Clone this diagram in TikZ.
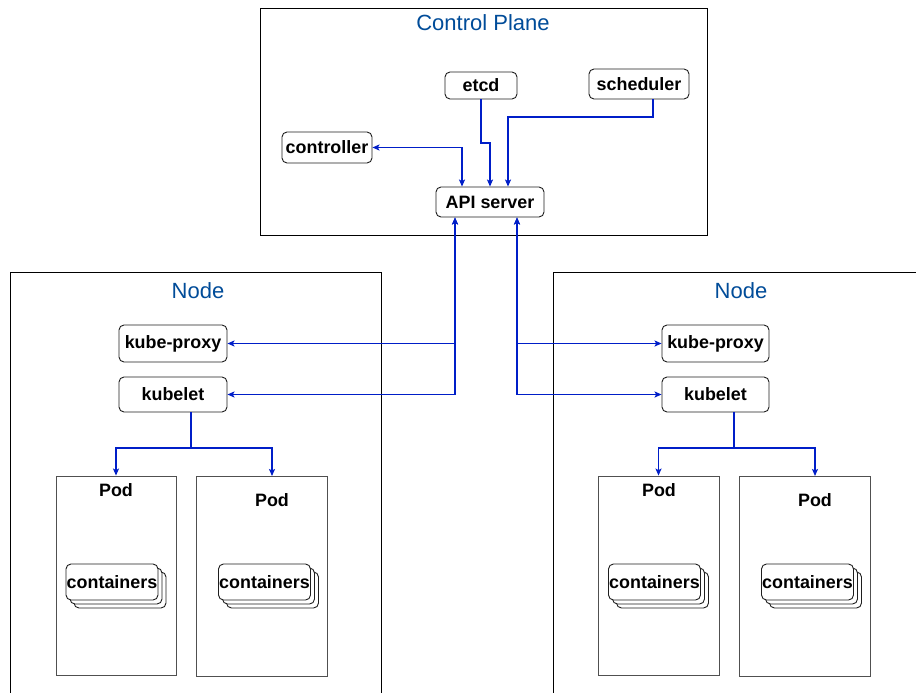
\documentclass[tikz,border=0pt]{standalone}
\usepackage{fontspec}
\setmainfont{Liberation Sans}
\usetikzlibrary{arrows.meta,shadows}

\definecolor{linkblue}{RGB}{0,30,200}
\definecolor{titleblue}{RGB}{0,76,153}
\definecolor{edge}{RGB}{30,30,30}
\definecolor{podgray}{RGB}{80,80,80}

\tikzset{
  lbl/.style={font=\bfseries\fontsize{17.9}{20}\selectfont},
  comp/.style={lbl, draw=edge, line width=0.9pt, rounded corners=5pt, fill=white, inner sep=0pt},
  region/.style={draw=black, line width=1pt},
  regiontitle/.style={text=titleblue, font=\fontsize{22}{26}\selectfont, inner sep=0pt},
  podbox/.style={draw=podgray, line width=0.9pt, inner sep=0pt},
  stack/.style={comp, minimum width=92pt, minimum height=36pt,
    double copy shadow={shadow xshift=4pt, shadow yshift=-4pt}},
  link/.style={draw=linkblue, line width=1.2pt, {Stealth[length=7pt,width=6pt,inset=1.5pt]}-{Stealth[length=7pt,width=6pt,inset=1.5pt]}},
  tolink/.style={draw=linkblue, line width=1.2pt, -{Stealth[length=7pt,width=6pt,inset=1.5pt]}},
}

\begin{document}
\begin{tikzpicture}[x=1pt,y=-1pt]
\useasboundingbox (0,0) rectangle (916,693);
\clip (0,0) rectangle (916,693);
\fill[white] (0,0) rectangle (916,693);

% ---- control plane ----
\node[region, minimum width=447pt, minimum height=226pt, inner sep=0pt] (cp) at (483.5,122) {};
\node[regiontitle] (cptitle) at (483,23) {Control Plane};
\node[comp, minimum width=72pt, minimum height=27pt] (etcd) at (481,85.5) {etcd};
\node[comp, minimum width=100pt, minimum height=30pt] (sched) at (639,84) {scheduler};
\node[comp, minimum width=90pt, minimum height=31pt] (ctrl) at (327,147.5) {controller};
\node[comp, minimum width=108pt, minimum height=30pt] (api) at (490,202) {API server};

\coordinate (ctrlbend) at (462,147.5);
\coordinate (etcdbend) at (490,143);
\coordinate (schedout) at (653,99);
\coordinate (schedbend) at (508,117);
\draw[link] (ctrl.east) -- (ctrlbend) -- (ctrlbend |- api.north);
\draw[tolink] (etcd.south) |- (etcdbend) -- (api.north);
\draw[tolink] (schedout |- sched.south) |- (schedbend) -- (schedbend |- api.north);

% ---- left worker node ----
\node[region, minimum width=371pt, minimum height=430pt, inner sep=0pt] (nodeL) at (195.5,487) {};
\node[regiontitle] (nodeLtitle) at (198,291) {Node};
\node[comp, minimum width=108pt, minimum height=37pt] (kpL) at (173,343.5) {kube-proxy};
\node[comp, minimum width=108pt, minimum height=35pt] (klL) at (173,394.5) {kubelet};

\node[podbox, minimum width=120pt, minimum height=199pt] (pod1) at (116,575.5) {};
\node[lbl] (pod1t) at (116,490) {Pod};
\node[stack] (cont1) at (112,582) {containers};
\node[podbox, minimum width=131pt, minimum height=200pt] (pod2) at (261.5,576) {};
\node[lbl] (pod2t) at (272,500) {Pod};
\node[stack] (cont2) at (264.5,582) {containers};

% ---- right worker node ----
\node[region, minimum width=367pt, minimum height=430pt, inner sep=0pt] (nodeR) at (736.5,487) {};
\node[regiontitle] (nodeRtitle) at (741,291) {Node};
\node[comp, minimum width=107pt, minimum height=37pt] (kpR) at (715.5,343.5) {kube-proxy};
\node[comp, minimum width=107pt, minimum height=35pt] (klR) at (715.5,394.5) {kubelet};

\node[podbox, minimum width=121pt, minimum height=199pt] (pod3) at (658.5,575.5) {};
\node[lbl] (pod3t) at (659,490) {Pod};
\node[stack] (cont3) at (654.5,582) {containers};
\node[podbox, minimum width=131pt, minimum height=200pt] (pod4) at (804.5,576) {};
\node[lbl] (pod4t) at (815,500) {Pod};
\node[stack] (cont4) at (807.5,582) {containers};

% ---- API server to the node agents ----
\coordinate (apiL) at (api.south -| 455,0);
\coordinate (apiR) at (api.south -| 517,0);
\draw[link] (apiL) |- (kpL.east);
\draw[link] (apiL) |- (klL.east);
\draw[link] (apiR) |- (kpR.west);
\draw[link] (apiR) |- (klR.west);

% ---- kubelet to pods ----
\coordinate (jL) at (191,448);
\coordinate (jR) at (734,448);
\coordinate (pod2in) at (272,476);
\coordinate (pod4in) at (815,476);
\draw[tolink] (jL |- klL.south) -- (jL) -| (pod1.north);
\draw[tolink] (jL |- klL.south) -- (jL) -| (pod2in);
\draw[tolink] (jR |- klR.south) -- (jR) -| (pod3.north);
\draw[tolink] (jR |- klR.south) -- (jR) -| (pod4in);
\end{tikzpicture}
\end{document}
